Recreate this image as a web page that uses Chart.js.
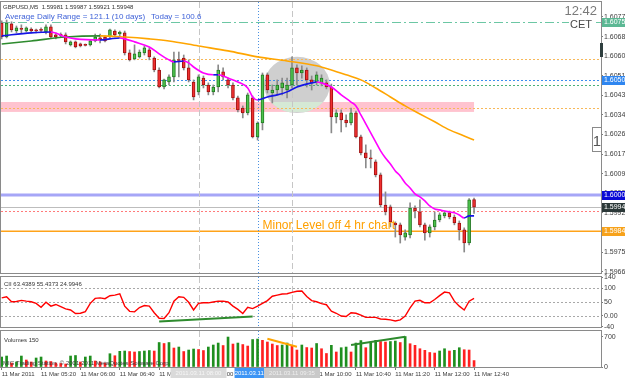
<!DOCTYPE html>
<html lang="en">
<head>
<meta charset="utf-8">
<title>GBPUSD M5</title>
<script src="https://cdn.jsdelivr.net/npm/chart.js@4.4.1/dist/chart.umd.min.js"></script>
<style>
  html, body { margin: 0; padding: 0; background: #fff; }
  #terminal { position: relative; width: 625px; height: 378px; overflow: hidden; background: #fff; }
  .pane { position: absolute; left: 0; }
</style>
</head>
<body>
<div id="terminal">
  <canvas id="priceChart" class="pane" width="625" height="274" style="top:0"></canvas>
  <canvas id="cciChart" class="pane" width="625" height="55" style="top:274px"></canvas>
  <canvas id="volumeChart" class="pane" width="625" height="49" style="top:329px"></canvas>
</div>
<script>
// GBPUSD M5, 11 Mar 2011 - one bar every 5 minutes, 04:40 .. 12:40

const timeLabels = ['11 Mar 2011', '11 Mar 05:20', '11 Mar 06:00', '11 Mar 06:40', '11 Mar 07:20', '11 Mar 08:00',
    '11 Mar 08:40', '11 Mar 09:20', '11 Mar 10:00', '11 Mar 10:40', '11 Mar 11:20', '11 Mar 12:00', '11 Mar 12:40'];
const timeTickBars = [0, 8, 16, 24, 32, 40, 48, 56, 64, 72, 80, 88, 96];

const openPrices = [
    1.60747, 1.60686, 1.60743, 1.60712, 1.60721, 1.60712, 1.60721, 1.60717, 1.60717, 1.60708,
    1.60730, 1.60695, 1.60695, 1.60695, 1.60652, 1.60665, 1.60656, 1.60652, 1.60652, 1.60669,
    1.60682, 1.60686, 1.60686, 1.60712, 1.60699, 1.60704, 1.60617, 1.60591, 1.60600, 1.60617,
    1.60630, 1.60595, 1.60543, 1.60469, 1.60491, 1.60513, 1.60587, 1.60595, 1.60552, 1.60491,
    1.60448, 1.60508, 1.60478, 1.60448, 1.60469, 1.60535, 1.60500, 1.60478, 1.60422, 1.60378,
    1.60357, 1.60422, 1.60253, 1.60313, 1.60522, 1.60443, 1.60456, 1.60465, 1.60456, 1.60478,
    1.60552, 1.60530, 1.60543, 1.60500, 1.60491, 1.60487, 1.60487, 1.60469, 1.60339, 1.60357,
    1.60326, 1.60313, 1.60357, 1.60253, 1.60183, 1.60161, 1.60144, 1.60088, 1.59957, 1.59949,
    1.59879, 1.59871, 1.59818, 1.59827, 1.59944, 1.59927, 1.59871, 1.59836, 1.59862, 1.59892,
    1.59910, 1.59923, 1.59905, 1.59879, 1.59849, 1.59792, 1.59981
];
const highPrices = [
    1.60756, 1.60760, 1.60752, 1.60734, 1.60739, 1.60730, 1.60726, 1.60721, 1.60726, 1.60739,
    1.60739, 1.60704, 1.60704, 1.60704, 1.60669, 1.60669, 1.60660, 1.60656, 1.60673, 1.60699,
    1.60699, 1.60691, 1.60721, 1.60717, 1.60712, 1.60712, 1.60630, 1.60652, 1.60630, 1.60647,
    1.60639, 1.60600, 1.60552, 1.60504, 1.60522, 1.60621, 1.60621, 1.60608, 1.60587, 1.60500,
    1.60522, 1.60517, 1.60487, 1.60478, 1.60565, 1.60552, 1.60508, 1.60487, 1.60430, 1.60387,
    1.60443, 1.60430, 1.60318, 1.60530, 1.60530, 1.60478, 1.60500, 1.60508, 1.60508, 1.60600,
    1.60565, 1.60561, 1.60552, 1.60517, 1.60535, 1.60522, 1.60500, 1.60482, 1.60370, 1.60370,
    1.60348, 1.60378, 1.60365, 1.60261, 1.60218, 1.60196, 1.60153, 1.60096, 1.60014, 1.59957,
    1.59884, 1.59879, 1.59849, 1.59966, 1.59953, 1.59979, 1.59879, 1.59871, 1.59927, 1.59923,
    1.59931, 1.59931, 1.59914, 1.59888, 1.59858, 1.59985, 1.59987
];
const lowPrices = [
    1.60678, 1.60682, 1.60708, 1.60704, 1.60704, 1.60708, 1.60704, 1.60704, 1.60708, 1.60699,
    1.60682, 1.60678, 1.60686, 1.60656, 1.60647, 1.60639, 1.60643, 1.60647, 1.60647, 1.60665,
    1.60660, 1.60665, 1.60682, 1.60686, 1.60691, 1.60608, 1.60582, 1.60587, 1.60595, 1.60608,
    1.60587, 1.60535, 1.60465, 1.60461, 1.60478, 1.60491, 1.60513, 1.60543, 1.60491, 1.60413,
    1.60435, 1.60465, 1.60435, 1.60435, 1.60448, 1.60500, 1.60465, 1.60413, 1.60361, 1.60335,
    1.60348, 1.60248, 1.60239, 1.60283, 1.60443, 1.60400, 1.60435, 1.60435, 1.60422, 1.60465,
    1.60478, 1.60508, 1.60469, 1.60456, 1.60478, 1.60474, 1.60461, 1.60270, 1.60313, 1.60274,
    1.60296, 1.60305, 1.60248, 1.60174, 1.60118, 1.60118, 1.60079, 1.59949, 1.59914, 1.59862,
    1.59818, 1.59792, 1.59805, 1.59814, 1.59901, 1.59862, 1.59805, 1.59818, 1.59849, 1.59884,
    1.59901, 1.59897, 1.59871, 1.59805, 1.59753, 1.59784, 1.59921
];
const closePrices = [
    1.60686, 1.60747, 1.60717, 1.60726, 1.60719, 1.60726, 1.60712, 1.60712, 1.60715, 1.60730,
    1.60686, 1.60686, 1.60693, 1.60665, 1.60665, 1.60643, 1.60647, 1.60650, 1.60669, 1.60686,
    1.60673, 1.60669, 1.60717, 1.60695, 1.60708, 1.60617, 1.60587, 1.60613, 1.60621, 1.60639,
    1.60600, 1.60543, 1.60469, 1.60500, 1.60513, 1.60587, 1.60584, 1.60552, 1.60500, 1.60426,
    1.60513, 1.60478, 1.60448, 1.60469, 1.60543, 1.60513, 1.60478, 1.60422, 1.60370, 1.60357,
    1.60435, 1.60253, 1.60313, 1.60522, 1.60456, 1.60456, 1.60478, 1.60487, 1.60478, 1.60552,
    1.60530, 1.60543, 1.60500, 1.60487, 1.60522, 1.60508, 1.60469, 1.60339, 1.60357, 1.60326,
    1.60313, 1.60357, 1.60253, 1.60183, 1.60161, 1.60157, 1.60088, 1.59957, 1.59927, 1.59884,
    1.59871, 1.59827, 1.59836, 1.59944, 1.59931, 1.59871, 1.59836, 1.59862, 1.59892, 1.59914,
    1.59923, 1.59905, 1.59879, 1.59849, 1.59792, 1.59979, 1.59948
];

// moyennes mobiles (barre, prix)
const fastMaBars = [0, 6, 10, 13, 15, 20, 22, 24, 25, 27, 30, 32, 34, 35, 37, 38, 39, 41, 43, 44,
    46, 48, 50, 51, 52, 54, 56, 58, 60, 63, 64, 65, 67, 69, 71, 72, 73, 74, 75, 76,
    77, 78, 79, 80, 81, 82, 83, 84, 85, 86, 87, 88, 89, 90, 91, 92, 93, 94, 95, 96];
const fastMaValues = [1.60691, 1.60704, 1.60708, 1.60686, 1.60678, 1.60673, 1.60678, 1.60682, 1.60678, 1.60665,
    1.60643, 1.60613, 1.60587, 1.60578, 1.60582, 1.60574, 1.60556, 1.60530, 1.60522, 1.60522,
    1.60508, 1.60491, 1.60465, 1.60426, 1.60413, 1.60426, 1.60435, 1.60448, 1.60469, 1.60487,
    1.60491, 1.60487, 1.60469, 1.60435, 1.60404, 1.60387, 1.60348, 1.60309, 1.60270, 1.60231,
    1.60192, 1.60161, 1.60135, 1.60105, 1.60083, 1.60053, 1.60031, 1.60005, 1.59992, 1.59975,
    1.59953, 1.59940, 1.59936, 1.59931, 1.59927, 1.59923, 1.59914, 1.59901, 1.59910, 1.59910];
const slowMaBars = [0, 6, 13, 20, 25, 30, 34, 40, 46, 52, 58, 64, 67, 70, 73, 76, 79, 82, 85, 88, 91, 94, 96];
const slowMaValues = [1.60656, 1.60669, 1.60686, 1.60691, 1.60686, 1.60678, 1.60669, 1.60647, 1.60626, 1.60600,
    1.60582, 1.60561, 1.60543, 1.60522, 1.60500, 1.60465, 1.60426, 1.60387, 1.60352, 1.60318,
    1.60283, 1.60257, 1.60239];

const cciValues = [
    65, 69, 51, 52, 56, 53, 51, 45, 31, 49,
    35, 41, 33, 25, 21, 8, 9, 15, 45, 63,
    65, 62, 73, 75, 80, 35, 16, 14, 30, 37,
    35, 11, -9, -10, 11, 53, 69, 67, 49, 21,
    45, 47, 47, 50, 53, 53, 50, 35, 23, 8,
    31, 26, 35, 45, 55, 71, 75, 79, 80, 85,
    89, 90, 70, 55, 51, 44, 40, 17, 9, -1,
    -3, 11, 9, 2, -6, -6, -6, -12, -13, -15,
    -19, -15, -1, 29, 53, 56, 47, 47, 59, 73,
    86, 83, 53, 35, 21, 53, 63
];
const cciTrendBars = [32, 51];
const cciTrendValues = [-21, -3];

const volumeValues = [
    233, 256, 93, 117, 256, 163, 117, 210, 233, 140,
    128, 93, 82, 70, 256, 268, 117, 233, 256, 140,
    117, 93, 310, 263, 366, 373, 361, 350, 361, 373,
    384, 373, 571, 548, 571, 443, 466, 361, 396, 419,
    408, 384, 466, 513, 559, 501, 699, 536, 559, 524,
    489, 641, 652, 622, 583, 536, 501, 513, 559, 489,
    396, 513, 454, 443, 548, 426, 315, 506, 350, 450,
    466, 350, 559, 617, 450, 583, 622, 594, 583, 594,
    606, 571, 711, 543, 506, 426, 389, 338, 326, 373,
    426, 373, 389, 450, 403, 396, 150
];
const volumeFallBars = [54, 60];
const volumeFallValues = [660, 473];
const volumeRiseBars = [71, 82];
const volumeRiseValues = [513, 706];

const priceTicks = [1.60773, 1.60688, 1.60603, 1.60518, 1.60433, 1.60348, 1.60263, 1.60178,
    1.60093, 1.60008, 1.59923, 1.59838, 1.59753, 1.59668];
const cciTicks = [140, 100, 50, 0, -40];
const cciLevels = [100, 50, 0];
const volumeTicks = [700, 0];

// niveaux traces sur le graphique
const horizontalLevels = [1.60750, 1.60590, 1.60500, 1.60478, 1.60378, 1.60000, 1.59948, 1.59931, 1.59843];
const zoneTop = 1.60404;
const zoneBottom = 1.60361;
const separatorBars = [40, 59];
const markerBar = 52;

const FONT = "'Liberation Sans', Arial, sans-serif";
Chart.defaults.font.family = FONT;

// bornes des echelles
const X_MIN = -0.14;
const X_MAX = 121.8;
const lastBar = openPrices.length - 1;
const bars = openPrices.map((_, i) => i);

const levelStyles = [
    { color: '#6cc7a4', width: 1, dash: [9, 3, 2, 3] },
    { color: '#f7b859', width: 1, dash: [2, 2] },
    { color: '#3d8ef0', width: 1, dash: [2, 2] },
    { color: '#49b07a', width: 1, dash: [2, 2] },
    { color: '#f7b859', width: 1, dash: [2, 2] },
    { color: '#a6a6f7', width: 3, dash: [] },
    { color: '#bdbdbd', width: 1, dash: [] },
    { color: '#ff7a7a', width: 1, dash: [2, 2] },
    { color: '#ffa31a', width: 1.5, dash: [] }
];
const axisBoxColors = { 0: '#5cb894', 2: '#2f86f0', 5: '#0b0bd6', 6: '#2b3838', 8: '#f7a21b' };

function points(xs, ys) {
    return xs.map((b, k) => ({ x: b, y: ys[k] }));
}

function rightAxis(min, max, tickValues, fmt) {
    return {
        position: 'right',
        min: min,
        max: max,
        afterBuildTicks: function(s) { s.ticks = tickValues.map(v => ({ value: v })); },
        afterFit: function(s) { s.width = 24; s.paddingTop = 0; s.paddingBottom = 0; },
        ticks: { font: { size: 7 }, color: '#3c3c3c', padding: 1, autoSkip: false, callback: fmt },
        grid: { drawOnChartArea: false, tickLength: 2, color: '#7a7a7a' },
        border: { display: false }
    };
}

function hiddenX() {
    return { type: 'linear', min: X_MIN, max: X_MAX, offset: false, display: false };
}

function drawVerticalMarkers(chart) {
    const { ctx, chartArea: a, scales: { x } } = chart;
    ctx.save();
    ctx.lineWidth = 1;
    ctx.strokeStyle = '#c6c6c6';
    ctx.setLineDash([6, 3]);
    separatorBars.forEach(b => {
        const px = Math.round(x.getPixelForValue(b)) + 0.5;
        ctx.beginPath(); ctx.moveTo(px, a.top); ctx.lineTo(px, a.bottom); ctx.stroke();
    });
    ctx.strokeStyle = '#4a90e2';
    ctx.setLineDash([1, 2]);
    const mx = Math.round(x.getPixelForValue(markerBar)) + 0.5;
    ctx.beginPath(); ctx.moveTo(mx, a.top); ctx.lineTo(mx, a.bottom); ctx.stroke();
    ctx.restore();
}

function drawFrame(chart) {
    const { ctx, chartArea: a } = chart;
    ctx.save();
    ctx.strokeStyle = '#8a8a8a';
    ctx.lineWidth = 1;
    ctx.strokeRect(a.left - 0.5, a.top - 0.5, a.right - a.left + 1, a.bottom - a.top + 1);
    ctx.restore();
}

const commonOptions = {
    responsive: false,
    animation: false,
    events: [],
    plugins: { legend: { display: false }, tooltip: { enabled: false } }
};

/* ---------- graphique des prix ---------- */
const priceDecor = {
    id: 'priceDecor',
    beforeDatasetsDraw(chart) {
        const { ctx, chartArea: a, scales: { x, y } } = chart;
        ctx.save();
        ctx.beginPath();
        ctx.rect(a.left, a.top, a.right - a.left, a.bottom - a.top);
        ctx.clip();

        // zone rose
        const zr = x.getPixelForValue(lastBar);
        const zt = y.getPixelForValue(zoneTop);
        const zb = y.getPixelForValue(zoneBottom);
        ctx.fillStyle = '#ffc3cf';
        ctx.fillRect(a.left, zt, zr - a.left, zb - zt);

        // ellipse grise autour de la consolidation
        const cx = x.getPixelForValue(60);
        const cy = y.getPixelForValue(1.60478);
        const rx = x.getPixelForValue(66.7) - cx;
        const ry = y.getPixelForValue(1.60478 - 0.00122) - cy;
        ctx.beginPath();
        ctx.ellipse(cx, cy, rx, ry, 0, 0, Math.PI * 2);
        ctx.fillStyle = '#cfcfcf';
        ctx.fill();
        ctx.save();
        ctx.clip();
        ctx.fillStyle = '#d5e9d5';
        ctx.fillRect(a.left, zt, zr - a.left, zb - zt);
        ctx.restore();

        // lignes horizontales
        horizontalLevels.forEach((p, k) => {
            const s = levelStyles[k];
            const py = s.width === 1 ? Math.round(y.getPixelForValue(p)) + 0.5 : y.getPixelForValue(p);
            ctx.strokeStyle = s.color;
            ctx.lineWidth = s.width;
            ctx.setLineDash(s.dash);
            ctx.beginPath(); ctx.moveTo(a.left, py); ctx.lineTo(a.right, py); ctx.stroke();
        });
        ctx.setLineDash([]);
        ctx.restore();
        drawVerticalMarkers(chart);
    },
    afterDraw(chart) {
        const { ctx, chartArea: a, scales: { x, y } } = chart;
        drawFrame(chart);
        ctx.save();
        ctx.textBaseline = 'alphabetic';

        // en-tete
        ctx.font = '6px ' + FONT;
        ctx.fillStyle = '#333';
        ctx.textAlign = 'left';
        const ohlc = [openPrices[lastBar], highPrices[lastBar], lowPrices[lastBar], closePrices[lastBar]]
            .map(v => v.toFixed(5)).join(' ');
        ctx.fillText('GBPUSD,M5  ' + ohlc, a.left + 2, 9);

        ctx.font = '8px ' + FONT;
        ctx.fillStyle = '#3f62d8';
        ctx.fillText('Average Daily Range = 121.1 (10 days)', 5, 19);
        ctx.fillText('Today = 100.6', 151, 19);

        // horloge
        ctx.textAlign = 'right';
        ctx.font = '13px ' + FONT;
        ctx.fillStyle = '#7a7a7a';
        ctx.fillText('12:42', 597, 15);
        ctx.fillStyle = '#ffffff';
        ctx.fillRect(569, 18, 25, 11);
        ctx.font = '11px ' + FONT;
        ctx.fillStyle = '#4a4a4a';
        ctx.fillText('CET', 592, 28);

        // commentaire
        ctx.textAlign = 'left';
        ctx.font = '12px ' + FONT;
        ctx.fillStyle = '#ffa000';
        ctx.fillText('Minor Level off 4 hr chart', x.getPixelForValue(53), y.getPixelForValue(1.59843) - 2);

        // marqueur "1"
        ctx.fillStyle = '#ffffff';
        ctx.fillRect(592, 127, 10, 25);
        ctx.strokeStyle = '#8a8a8a';
        ctx.lineWidth = 1;
        ctx.strokeRect(592.5, 127.5, 9, 24);
        ctx.font = '15px ' + FONT;
        ctx.fillStyle = '#555';
        ctx.textAlign = 'center';
        ctx.fillText('1', 597, 146);

        ctx.fillStyle = '#2f3f3f';
        ctx.fillRect(600, 43, 3, 14);

        // etiquettes de prix sur l'axe
        ctx.textAlign = 'left';
        ctx.textBaseline = 'middle';
        ctx.font = '7px ' + FONT;
        Object.keys(axisBoxColors).forEach(k => {
            const p = horizontalLevels[k];
            const py = Math.round(y.getPixelForValue(p));
            ctx.fillStyle = axisBoxColors[k];
            ctx.fillRect(a.right + 1, py - 4, 24, 9);
            ctx.fillStyle = '#ffffff';
            ctx.fillText(p.toFixed(5), a.right + 3, py + 0.5);
        });
        ctx.restore();
    }
};

const isUp = i => closePrices[i] >= openPrices[i];

new Chart(document.getElementById('priceChart'), {
    type: 'bar',
    data: {
        datasets: [
            {
                type: 'line',
                data: points(fastMaBars, fastMaValues),
                borderColor: '#ff00ff',
                segment: { borderColor: c => c.p1.parsed.y >= c.p0.parsed.y ? '#1414e6' : '#ff00ff' },
                borderWidth: 1.6,
                pointRadius: 0,
                cubicInterpolationMode: 'monotone',
                order: 0
            },
            {
                type: 'line',
                data: points(slowMaBars, slowMaValues),
                borderColor: '#ffa500',
                segment: { borderColor: c => c.p1.parsed.y >= c.p0.parsed.y ? '#2e8b2e' : '#ffa500' },
                borderWidth: 1.6,
                pointRadius: 0,
                cubicInterpolationMode: 'monotone',
                order: 1
            },
            {
                data: bars.map(i => ({ x: i, y: [openPrices[i], closePrices[i]] })),
                backgroundColor: c => isUp(c.dataIndex) ? '#4cc24c' : '#f03030',
                borderColor: c => isUp(c.dataIndex) ? '#237a23' : '#a01010',
                borderWidth: 1,
                borderSkipped: false,
                barThickness: 3,
                minBarLength: 1,
                grouped: false,
                order: 2
            },
            {
                data: bars.map(i => ({ x: i, y: [lowPrices[i], highPrices[i]] })),
                backgroundColor: '#8a8a8a',
                barThickness: 1,
                grouped: false,
                order: 3
            }
        ]
    },
    options: Object.assign({}, commonOptions, {
        layout: { padding: { left: 1, top: 2, right: 0, bottom: 1 } },
        scales: {
            x: hiddenX(),
            y: rightAxis(1.59662, 1.60838, priceTicks, v => v.toFixed(5))
        }
    }),
    plugins: [priceDecor]
});

/* ---------- CCI ---------- */
const cciDecor = {
    id: 'cciDecor',
    beforeDatasetsDraw(chart) {
        const { ctx, chartArea: a, scales: { y } } = chart;
        ctx.save();
        ctx.strokeStyle = '#a8a8a8';
        ctx.lineWidth = 1;
        ctx.setLineDash([2, 2]);
        cciLevels.forEach(v => {
            const py = Math.round(y.getPixelForValue(v)) + 0.5;
            ctx.beginPath(); ctx.moveTo(a.left, py); ctx.lineTo(a.right, py); ctx.stroke();
        });
        ctx.restore();
        drawVerticalMarkers(chart);
    },
    afterDraw(chart) {
        const { ctx, chartArea: a } = chart;
        drawFrame(chart);
        ctx.save();
        ctx.font = '6px ' + FONT;
        ctx.fillStyle = '#333';
        ctx.textAlign = 'left';
        ctx.fillText('CII 63.4389 55.4373 24.9946', a.left + 3, a.top + 9);
        ctx.restore();
    }
};

new Chart(document.getElementById('cciChart'), {
    type: 'line',
    data: {
        datasets: [
            {
                data: points(cciTrendBars, cciTrendValues),
                borderColor: '#2e8b2e',
                borderWidth: 2,
                pointRadius: 0
            },
            {
                data: cciValues.map((v, i) => ({ x: i, y: v })),
                borderColor: '#ff0000',
                borderWidth: 1.4,
                pointRadius: 0,
                tension: 0
            }
        ]
    },
    options: Object.assign({}, commonOptions, {
        layout: { padding: { left: 1, top: 3, right: 0, bottom: 2 } },
        scales: {
            x: hiddenX(),
            y: rightAxis(-41, 141, cciTicks, v => v === 0 ? '0.00' : String(v))
        }
    }),
    plugins: [cciDecor]
});

/* ---------- Volumes ---------- */
const volumeDecor = {
    id: 'volumeDecor',
    beforeDatasetsDraw(chart) {
        drawVerticalMarkers(chart);
    },
    afterDatasetsDraw(chart) {
        const { ctx, chartArea: a } = chart;
        ctx.save();
        ctx.font = '6px ' + FONT;
        ctx.fillStyle = '#333';
        ctx.textAlign = 'left';
        ctx.fillText('Volumes ' + volumeValues[lastBar], a.left + 3, a.top + 11);
        ctx.fillStyle = '#3a3a3a';
        ctx.fillText('MIG Trading Station, \u00a9 2001-2011 MetaQuotes Software Corp.', a.left + 2, a.bottom - 2);
        ctx.restore();
    },
    afterDraw(chart) {
        const { ctx, chartArea: a, scales: { x } } = chart;
        drawFrame(chart);
        ctx.save();
        ctx.font = '6px ' + FONT;
        ctx.textAlign = 'center';
        ctx.textBaseline = 'middle';
        const tags = [
            [separatorBars[0], '#dadada', '#f6f6f6', '2011.03.11 08:00', 56],
            [markerBar, '#3d95f5', '#ffffff', '2011.03.11 09:00', 46],
            [separatorBars[1], '#c9c9c9', '#eeeeee', '2011.03.11 09:35', 56]
        ];
        tags.forEach(t => {
            const cx = x.getPixelForValue(t[0]);
            ctx.fillStyle = t[1];
            ctx.fillRect(cx - t[4] / 2, a.bottom + 1, t[4], 10);
            ctx.fillStyle = t[2];
            ctx.fillText(t[3], cx, a.bottom + 6.5);
        });
        ctx.restore();
    }
};

new Chart(document.getElementById('volumeChart'), {
    type: 'bar',
    data: {
        datasets: [
            {
                type: 'line',
                data: points(volumeFallBars, volumeFallValues),
                borderColor: '#ffa500',
                borderWidth: 2,
                pointRadius: 0,
                order: 0
            },
            {
                type: 'line',
                data: points(volumeRiseBars, volumeRiseValues),
                borderColor: '#2e8b2e',
                borderWidth: 2,
                pointRadius: 0,
                order: 0
            },
            {
                data: volumeValues.map((v, i) => ({ x: i, y: v })),
                backgroundColor: c => (c.dataIndex === 0 || volumeValues[c.dataIndex] >= volumeValues[c.dataIndex - 1]) ? '#1f8f1f' : '#ff2020',
                barThickness: 2,
                grouped: false,
                order: 1
            }
        ]
    },
    options: Object.assign({}, commonOptions, {
        layout: { padding: { left: 1, top: 2, right: 0, bottom: 0 } },
        scales: {
            x: {
                type: 'linear',
                min: X_MIN,
                max: X_MAX,
                offset: false,
                afterBuildTicks: function(s) { s.ticks = timeTickBars.map(v => ({ value: v })); },
                afterFit: function(s) { s.height = 11; s.paddingLeft = 0; s.paddingRight = 0; },
                ticks: {
                    autoSkip: false, maxRotation: 0, minRotation: 0, align: 'start', padding: 1,
                    font: { size: 6 }, color: '#3c3c3c',
                    callback: (v, i) => timeLabels[i]
                },
                grid: { drawOnChartArea: false, tickLength: 3, color: '#7a7a7a', offset: false },
                border: { display: false }
            },
            y: rightAxis(0, 840, volumeTicks, v => String(v))
        }
    }),
    plugins: [volumeDecor]
});
</script>
</body>
</html>
